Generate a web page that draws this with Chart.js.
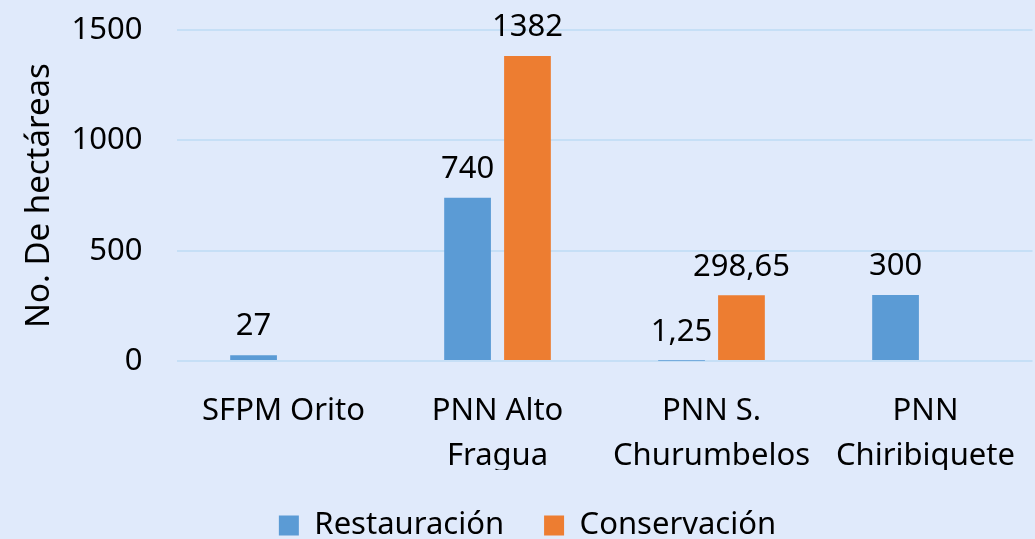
<!DOCTYPE html>
<html>
<head>
<meta charset="utf-8">
<script src="https://cdn.jsdelivr.net/npm/chart.js@4"></script>
<style>
  body { margin: 0; background: #e0eafb; }
  #wrap { width: 1035px; height: 539px; }
</style>
</head>
<body>
<div id="wrap"><canvas id="hectChart" width="1035" height="539"></canvas></div>
<script>
// data
const categories = [['SFPM Orito'], ['PNN Alto', 'Fragua'], ['PNN S.', 'Churumbelos'], ['PNN', 'Chiribiquete']];
const restauracion = [27, 740, 1.25, 300];
const conservacion = [null, 1382, 298.65, null];
const yTicks = [0, 500, 1000, 1500];

const FONT = "'Noto Sans', 'Open Sans', sans-serif";
const SIZE = 31;

// value labels above each bar (spanish decimal comma)
const valueLabels = {
  id: 'valueLabels',
  afterDatasetsDraw(chart) {
    const ctx = chart.ctx;
    ctx.save();
    ctx.font = SIZE + 'px ' + FONT;
    ctx.fillStyle = '#000';
    ctx.textAlign = 'center';
    ctx.textBaseline = 'bottom';
    chart.data.datasets.forEach((ds, i) => {
      chart.getDatasetMeta(i).data.forEach((bar, j) => {
        const v = ds.data[j];
        if (v === null || v === undefined) return;
        ctx.fillText(String(v).replace('.', ','), bar.x, bar.y - 13);
      });
    });
    ctx.restore();
  }
};

const ctx = document.getElementById('hectChart').getContext('2d');
new Chart(ctx, {
  type: 'bar',
  data: {
    labels: categories,
    datasets: [
      {
        label: 'Restauración',
        data: restauracion,
        backgroundColor: '#5b9bd5',
        categoryPercentage: 0.56,
        barPercentage: 0.78
      },
      {
        label: 'Conservación',
        data: conservacion,
        backgroundColor: '#ed7d31',
        categoryPercentage: 0.56,
        barPercentage: 0.78
      }
    ]
  },
  options: {
    responsive: false,
    animation: false,
    layout: { padding: { top: 30, right: 0, bottom: -12, left: 20 } },
    scales: {
      x: {
        grid: { display: false },
        border: { display: false },
        ticks: {
          color: '#000',
          font: { family: FONT, size: SIZE, lineHeight: 1.45 },
          padding: 20,
          maxRotation: 0
        },
        // pull the legend up closer to the category labels
        afterFit: (scale) => { scale.height -= 29; }
      },
      y: {
        min: 0,
        max: 1500,
        afterBuildTicks: (axis) => { axis.ticks = yTicks.map(v => ({ value: v })); },
        grid: { color: '#c6dff6', lineWidth: 2, drawTicks: true, tickLength: 30, tickColor: 'rgba(0,0,0,0)' },
        border: { display: false },
        ticks: {
          color: '#000',
          font: { family: FONT, size: SIZE },
          padding: 4,
          callback: (v) => String(v)
        },
        title: {
          display: true,
          text: 'No. De hectáreas',
          color: '#000',
          font: { family: FONT, size: 33 },
          padding: { top: 0, bottom: 8 }
        }
      }
    },
    plugins: {
      legend: {
        position: 'bottom',
        labels: {
          color: '#000',
          font: { family: FONT, size: SIZE },
          boxWidth: 20,
          boxHeight: 20,
          padding: 40
        }
      },
      tooltip: { enabled: false }
    }
  },
  plugins: [valueLabels]
});
</script>
</body>
</html>
